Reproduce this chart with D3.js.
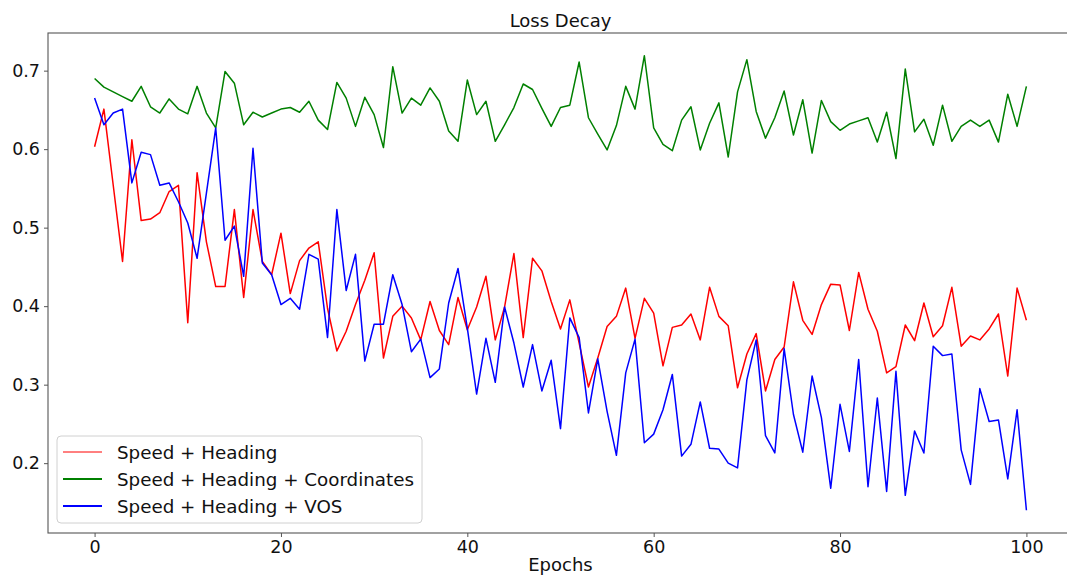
<!DOCTYPE html>
<html>
<head>
<meta charset="utf-8">
<script src="https://cdn.jsdelivr.net/npm/d3@7"></script>
<style>
  html, body { margin: 0; padding: 0; background: #fff; }
  svg { display: block; font-family: "DejaVu Sans", sans-serif; }
</style>
</head>
<body>
<svg id="chart" width="1067" height="576"></svg>
<script>
const epochs = d3.range(0, 101);
const seriesNames = ["Speed + Heading", "Speed + Heading + Coordinates", "Speed + Heading + VOS"];
const seriesColors = ["#ff0000", "#008000", "#0000ff"];

const speedHeading = [
  0.603, 0.651, 0.554, 0.457, 0.612, 0.509, 0.511, 0.519, 0.546, 0.554,
  0.379, 0.570, 0.482, 0.425, 0.425, 0.523, 0.411, 0.523, 0.457, 0.440,
  0.493, 0.416, 0.458, 0.474, 0.482, 0.397, 0.343, 0.368, 0.402, 0.433,
  0.468, 0.334, 0.387, 0.400, 0.385, 0.357, 0.406, 0.369, 0.351, 0.411,
  0.370, 0.399, 0.438, 0.357, 0.399, 0.467, 0.360, 0.461, 0.445, 0.406,
  0.371, 0.408, 0.353, 0.297, 0.334, 0.374, 0.387, 0.423, 0.359, 0.410,
  0.391, 0.324, 0.373, 0.376, 0.390, 0.357, 0.424, 0.387, 0.375, 0.296,
  0.339, 0.365, 0.292, 0.332, 0.348, 0.431, 0.382, 0.364, 0.402, 0.428,
  0.427, 0.369, 0.443, 0.396, 0.368, 0.315, 0.323, 0.376, 0.356, 0.404,
  0.361, 0.375, 0.424, 0.349, 0.362, 0.357, 0.371, 0.390, 0.311, 0.423,
  0.382
];

const speedHeadingCoords = [
  0.690, 0.679, 0.673, 0.667, 0.661, 0.680, 0.654, 0.646, 0.664, 0.651,
  0.645, 0.680, 0.646, 0.627, 0.699, 0.684, 0.631, 0.647, 0.641, 0.646,
  0.651, 0.653, 0.647, 0.661, 0.637, 0.625, 0.685, 0.665, 0.629, 0.666,
  0.644, 0.602, 0.705, 0.646, 0.665, 0.656, 0.678, 0.661, 0.623, 0.610,
  0.688, 0.644, 0.661, 0.610, 0.631, 0.653, 0.683, 0.676, 0.652, 0.629,
  0.653, 0.656, 0.711, 0.640, 0.619, 0.599, 0.630, 0.680, 0.651, 0.719,
  0.627, 0.606, 0.598, 0.637, 0.654, 0.599, 0.633, 0.659, 0.590, 0.673,
  0.714, 0.648, 0.614, 0.640, 0.674, 0.618, 0.663, 0.595, 0.662, 0.635,
  0.624, 0.632, 0.636, 0.640, 0.609, 0.647, 0.588, 0.702, 0.622, 0.638,
  0.605, 0.656, 0.610, 0.629, 0.637, 0.629, 0.637, 0.609, 0.670, 0.629,
  0.680
];

const speedHeadingVOS = [
  0.665, 0.631, 0.646, 0.651, 0.557, 0.596, 0.593, 0.554, 0.557, 0.533,
  0.506, 0.461, 0.544, 0.627, 0.484, 0.502, 0.438, 0.601, 0.455, 0.440,
  0.402, 0.410, 0.396, 0.466, 0.460, 0.360, 0.523, 0.420, 0.466, 0.330,
  0.377, 0.377, 0.440, 0.402, 0.342, 0.358, 0.309, 0.320, 0.404, 0.448,
  0.372, 0.288, 0.359, 0.303, 0.399, 0.353, 0.297, 0.351, 0.292, 0.331,
  0.244, 0.385, 0.360, 0.264, 0.333, 0.266, 0.210, 0.315, 0.358, 0.226,
  0.237, 0.268, 0.313, 0.209, 0.224, 0.278, 0.219, 0.218, 0.200, 0.194,
  0.306, 0.357, 0.235, 0.213, 0.346, 0.262, 0.214, 0.311, 0.258, 0.168,
  0.275, 0.215, 0.332, 0.170, 0.283, 0.164, 0.317, 0.159, 0.241, 0.213,
  0.349, 0.337, 0.339, 0.217, 0.173, 0.295, 0.253, 0.255, 0.180, 0.268,
  0.140
];

const xTicks = [0, 20, 40, 60, 80, 100];
const yTicks = [0.2, 0.3, 0.4, 0.5, 0.6, 0.7];

const allSeries = [speedHeading, speedHeadingCoords, speedHeadingVOS];

const svg = d3.select("#chart");
const plotLeft = 48, plotRight = 1073, plotTop = 33, plotBottom = 533;

// matplotlib-like 5% margins
const xMin = d3.min(epochs), xMax = d3.max(epochs);
const xPad = (xMax - xMin) * 0.05;
const allVals = allSeries.flat();
const yMin = d3.min(allVals), yMax = d3.max(allVals);
const yPad = (yMax - yMin) * 0.05;

const x = d3.scaleLinear().domain([xMin - xPad, xMax + xPad]).range([plotLeft, plotRight]);
const y = d3.scaleLinear().domain([yMin - yPad, yMax + yPad]).range([plotBottom, plotTop]);

svg.append("defs").append("clipPath").attr("id", "plotclip")
  .append("rect").attr("x", plotLeft).attr("y", plotTop)
  .attr("width", plotRight - plotLeft).attr("height", plotBottom - plotTop);

// lines
const line = d3.line().x((d, i) => x(epochs[i])).y(d => y(d));
const plot = svg.append("g").attr("clip-path", "url(#plotclip)");
allSeries.forEach((s, k) => {
  plot.append("path")
    .datum(s)
    .attr("d", line)
    .attr("fill", "none")
    .attr("stroke", seriesColors[k])
    .attr("stroke-width", 1.5)
    .attr("stroke-linejoin", "round");
});

// spines
svg.append("rect")
  .attr("x", plotLeft).attr("y", plotTop)
  .attr("width", plotRight - plotLeft).attr("height", plotBottom - plotTop)
  .attr("fill", "none").attr("stroke", "#555").attr("stroke-width", 1.1);

// axes
const xAxis = d3.axisBottom(x).tickValues(xTicks).tickSize(4).tickPadding(4).tickFormat(d3.format("d"));
const gx = svg.append("g").attr("transform", `translate(0,${plotBottom})`).call(xAxis);
gx.select(".domain").remove();
gx.selectAll("line").attr("stroke", "#555");
gx.selectAll("text").attr("font-size", 17.5).attr("fill", "#111").attr("font-family", "DejaVu Sans");

const yAxis = d3.axisLeft(y).tickValues(yTicks).tickSize(4).tickPadding(4).tickFormat(d3.format(".1f"));
const gy = svg.append("g").attr("transform", `translate(${plotLeft},0)`).call(yAxis);
gy.select(".domain").remove();
gy.selectAll("line").attr("stroke", "#555");
gy.selectAll("text").attr("font-size", 17.5).attr("fill", "#111").attr("font-family", "DejaVu Sans");

// title and label
svg.append("text").attr("x", (plotLeft + plotRight) / 2).attr("y", 27)
  .attr("text-anchor", "middle").attr("font-size", 18).attr("fill", "#111").text("Loss Decay");
svg.append("text").attr("x", (plotLeft + plotRight) / 2).attr("y", 571)
  .attr("text-anchor", "middle").attr("font-size", 18).attr("fill", "#111").text("Epochs");

// legend
const lg = svg.append("g");
lg.append("rect").attr("x", 57).attr("y", 436).attr("width", 365).attr("height", 87)
  .attr("rx", 4).attr("fill", "#fff").attr("fill-opacity", 0.85)
  .attr("stroke", "#d0d0d0").attr("stroke-width", 1);
seriesNames.forEach((name, k) => {
  const cy = 452 + k * 27;
  lg.append("line").attr("x1", 63).attr("x2", 102).attr("y1", cy).attr("y2", cy)
    .attr("stroke", seriesColors[k]).attr("stroke-width", k === 0 ? 1 : 1.8);
  lg.append("text").attr("x", 117).attr("y", cy + 6.5)
    .attr("font-size", 18.3).attr("fill", "#111").text(name);
});
</script>
</body>
</html>
